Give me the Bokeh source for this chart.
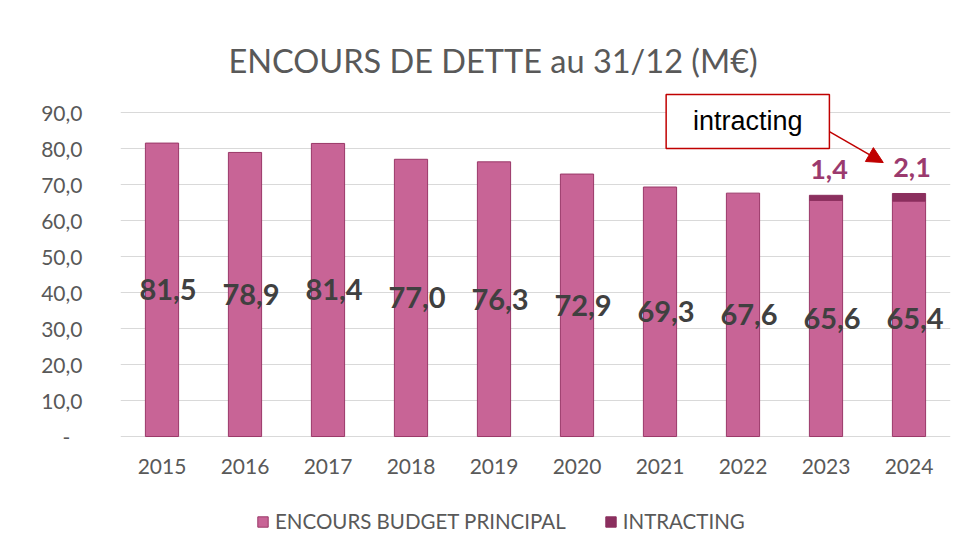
from bokeh.plotting import figure
from bokeh.models import (Range1d, FixedTicker, Legend, LegendItem, Arrow, NormalHead,
                          Label, BoxAnnotation, ColumnDataSource)
from bokeh.core.properties import value
from bokeh.embed import file_html
from bokeh.resources import INLINE

# ---- data ----
years = ["2015", "2016", "2017", "2018", "2019", "2020", "2021", "2022", "2023", "2024"]
budget = [81.5, 78.9, 81.4, 77.0, 76.3, 72.9, 69.3, 67.6, 65.6, 65.4]
intracting = [None, None, None, None, None, None, None, None, 1.4, 2.1]
y_ticks = [0, 10, 20, 30, 40, 50, 60, 70, 80, 90]
y_tick_labels = ["-\u2007", "10,0", "20,0", "30,0", "40,0", "50,0", "60,0", "70,0", "80,0", "90,0"]
title_text = "ENCOURS DE DETTE au 31/12 (M\u20ac)"
series_names = ["ENCOURS BUDGET PRINCIPAL", "INTRACTING"]

def fr(v):
    return f"{v:.1f}".replace(".", ",")

FONT = "Lato"
C_MAIN = "#C86496"
C_MAIN_LINE = "#9A3868"
C_INTR = "#8B2F5E"
GRID = "#D9D9D9"
TXT = "#595959"

p = figure(x_range=years, y_range=Range1d(-31.1, 96.94), width=955, height=548,
           output_backend="svg", toolbar_location=None, x_axis_location=None,
           min_border_left=120, min_border_right=5, min_border_top=87, min_border_bottom=0)
p.x_range.range_padding = 0
p.outline_line_color = None

# outer chart border (top and left edges visible)
p.add_layout(BoxAnnotation(left=11, right=2000, top=13, bottom=2000,
                           left_units="canvas", right_units="canvas",
                           top_units="canvas", bottom_units="canvas",
                           fill_alpha=0, line_color="#D9D9D9", line_alpha=1.0,
                           line_width=2.5, level="underlay"))

# title
p.title.text = title_text
p.title.text_font = FONT
p.title.text_font_size = "32.5px"
p.title.text_font_style = "normal"
p.title.text_color = TXT
p.title.align = "left"
p.title.offset = 108
p.title.standoff = 16

# bars
src_main = ColumnDataSource(dict(x=years, top=budget, mid=[b / 2 for b in budget],
                                 lab=[fr(b) for b in budget], zero=[0] * len(years)))
r_main = p.vbar(x="x", top="top", bottom=0, width=0.4, source=src_main,
                fill_color=C_MAIN, line_color=C_MAIN_LINE, line_width=1)

ix = [y for y, v in zip(years, intracting) if v is not None]
ib = [b for b, v in zip(budget, intracting) if v is not None]
iv = [v for v in intracting if v is not None]
src_int = ColumnDataSource(dict(x=ix, bottom=ib, top=[b + v for b, v in zip(ib, iv)],
                                lab=[fr(v) for v in iv]))
r_int = p.vbar(x="x", top="top", bottom="bottom", width=0.4, source=src_int,
               fill_color=C_INTR, line_color=C_INTR, line_width=1)

# value labels
p.text(x="x", y="mid", text="lab", source=src_main, text_font=value(FONT),
       text_font_style="bold", text_font_size="29px", text_color="#404040",
       text_align="center", text_baseline="middle", x_offset=6)
p.text(x="x", y="top", text="lab", source=src_int, text_font=value(FONT),
       text_font_style="bold", text_font_size="27px", text_color="#9B3A6E",
       text_align="center", text_baseline="bottom", y_offset=-16, x_offset=3)

# category labels (x axis)
p.text(x="x", y="zero", text="x", source=src_main, text_font=value(FONT),
       text_font_size="21px", text_color=TXT, text_align="center",
       text_baseline="top", y_offset=22)

# y axis
p.yaxis.ticker = FixedTicker(ticks=y_ticks)
p.yaxis.major_label_overrides = {t: l for t, l in zip(y_ticks, y_tick_labels)}
p.yaxis.axis_line_color = None
p.yaxis.major_tick_line_color = None
p.yaxis.minor_tick_line_color = None
p.yaxis.major_label_text_font = FONT
p.yaxis.major_label_text_font_size = "21px"
p.yaxis.major_label_text_color = TXT
p.yaxis.major_label_standoff = 32

p.xgrid.grid_line_color = None
p.ygrid.grid_line_color = GRID
p.ygrid.grid_line_width = 1

# annotation box + arrow
box = BoxAnnotation(left=6.574, right=8.541, bottom=80.0, top=95.0,
                    fill_color="white", fill_alpha=1.0, line_color="#C00000",
                    line_alpha=1.0, line_width=1.5)
p.add_layout(box)
p.add_layout(Label(x=7.557, y=87.5, text="intracting", text_align="center",
                   text_baseline="middle", text_font="Liberation Sans",
                   text_font_size="27px", text_color="#000000"))
p.add_layout(Arrow(end=NormalHead(size=16, fill_color="#C00000", line_color="#C00000"),
                   x_start=8.541, y_start=84.7, x_end=9.19, y_end=76.1,
                   line_color="#C00000", line_width=1.5))

# legend (inside the frame, below the category labels)
legend = Legend(items=[LegendItem(label=series_names[0], renderers=[r_main]),
                       LegendItem(label=series_names[1], renderers=[r_int])],
                orientation="horizontal", location=(136, 15))
legend.label_text_font = FONT
legend.label_text_font_size = "20.5px"
legend.label_text_color = TXT
legend.glyph_width = 13
legend.glyph_height = 13
legend.label_standoff = 6
legend.spacing = 38
legend.padding = 0
legend.margin = 0
legend.border_line_color = None
legend.background_fill_alpha = 0
p.add_layout(legend)

open("out.html", "w").write(file_html(p, INLINE))
